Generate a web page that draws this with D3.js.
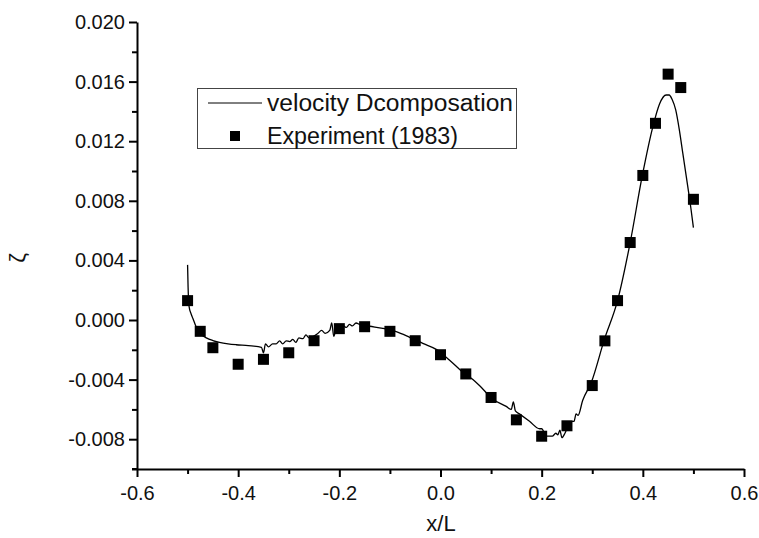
<!DOCTYPE html>
<html><head><meta charset="utf-8">
<script src="https://cdn.jsdelivr.net/npm/d3@7"></script>
<style>body{margin:0;background:#fff;}svg{display:block;font-family:"Liberation Sans",Arial,sans-serif;}</style>
</head><body><svg id="c" width="759" height="538"></svg>
<script>
// Experiment (1983) points
const expX = [-0.5,-0.475,-0.45,-0.4,-0.35,-0.3,-0.25,-0.2,-0.15,-0.1,-0.05,0.0,0.05,0.1,0.15,0.2,0.25,0.3,0.325,0.35,0.375,0.4,0.425,0.45,0.475,0.5];
const expY = [0.0013,-0.00076,-0.00186,-0.00297,-0.00264,-0.0022,-0.00139,-0.00058,-0.00045,-0.00076,-0.00139,-0.00233,-0.00362,-0.0052,-0.0067,-0.0078,-0.0071,-0.0044,-0.0014,0.0013,0.0052,0.0097,0.0132,0.0165,0.0156,0.0081];
// velocity Dcomposation line
const lineX = [-0.5,-0.499,-0.497,-0.493,-0.4895,-0.485,-0.48,-0.472,-0.463,-0.45,-0.437,-0.42,-0.404,-0.38,-0.354,-0.35,-0.346,-0.34,-0.332,-0.325,-0.318,-0.312,-0.305,-0.298,-0.292,-0.286,-0.28,-0.272,-0.266,-0.26,-0.2425,-0.235,-0.228,-0.219,-0.215,-0.211,-0.205,-0.198,-0.192,-0.186,-0.18,-0.174,-0.167,-0.16,-0.14,-0.114,-0.0875,-0.061,-0.035,-0.0085,0.018,0.044,0.064,0.077,0.103,0.13,0.14,0.144,0.148,0.156,0.176,0.196,0.2,0.209,0.221,0.228,0.232,0.236,0.24,0.246,0.25,0.256,0.26,0.264,0.268,0.272,0.281,0.298,0.324,0.35,0.375,0.399,0.42,0.433,0.446,0.452,0.458,0.465,0.472,0.479,0.486,0.495,0.5];
const lineY = [0.0037,0.0022,0.0009,0.0004,0.0001,-0.0003,-0.0007,-0.001,-0.0012,-0.00138,-0.0015,-0.0016,-0.00166,-0.00172,-0.00183,-0.0022,-0.0016,-0.0018,-0.0016,-0.0016,-0.0014,-0.0016,-0.0014,-0.00145,-0.0013,-0.0015,-0.0012,-0.00125,-0.001,-0.0012,-0.0009,-0.0007,-0.0009,-0.0007,-0.0002,-0.0011,-0.0005,-0.0006,-0.0004,-0.0005,-0.0003,-0.0004,-0.0002,-0.0003,-0.00042,-0.00056,-0.00078,-0.00116,-0.00157,-0.00197,-0.0027,-0.0035,-0.004,-0.0044,-0.0053,-0.0058,-0.006,-0.0055,-0.0061,-0.0063,-0.0068,-0.0073,-0.0073,-0.0078,-0.0078,-0.0076,-0.0077,-0.0074,-0.0079,-0.0076,-0.0073,-0.0071,-0.0068,-0.0068,-0.0063,-0.0064,-0.0054,-0.0042,-0.0013,0.0013,0.0052,0.0097,0.013,0.0145,0.0151,0.0151,0.0148,0.0141,0.0128,0.0112,0.0096,0.0075,0.0062];
const xMajor = [-0.6,-0.4,-0.2,0.0,0.2,0.4,0.6];
const xMinor = [-0.5,-0.3,-0.1,0.1,0.3,0.5];
const yMajor = [-0.008,-0.004,0.0,0.004,0.008,0.012,0.016,0.020];
const yMinor = [-0.010,-0.006,-0.002,0.002,0.006,0.010,0.014,0.018];
const seriesNames = ["velocity Dcomposation","Experiment (1983)"];

const svg = d3.select("#c");
const x = d3.scaleLinear().domain([-0.6,0.6]).range([137,744]);
const y = d3.scaleLinear().domain([-0.010,0.020]).range([469,22]);
const fmt = p => v => d3.format(p)(v).replace("\u2212","-");

const gx = svg.append("g").attr("transform","translate(0,469)");
gx.call(d3.axisBottom(x).tickValues(xMajor).tickFormat(fmt(".1f")).tickSize(8).tickSizeOuter(0));
gx.append("g").call(d3.axisBottom(x).tickValues(xMinor).tickFormat("").tickSize(5).tickSizeOuter(0)).select(".domain").remove();
const gy = svg.append("g").attr("transform","translate(137,0)");
gy.call(d3.axisLeft(y).tickValues(yMajor).tickFormat(fmt(".3f")).tickSize(8).tickSizeOuter(0));
gy.append("g").call(d3.axisLeft(y).tickValues(yMinor).tickFormat("").tickSize(5).tickSizeOuter(0)).select(".domain").remove();
svg.selectAll(".domain").attr("stroke","#000").attr("stroke-width",2);
svg.selectAll(".tick line").attr("stroke","#000").attr("stroke-width",2);
gx.selectAll(".tick text").attr("font-size",20).attr("dy","1.0em").attr("fill","#111");
gy.selectAll(".tick text").attr("font-size",20).attr("dx","-0.05em").attr("fill","#111");
svg.append("line").attr("x1",132).attr("x2",137).attr("y1",469).attr("y2",469).attr("stroke","#000").attr("stroke-width",2);

const pts = lineX.map((v,i)=>[v,lineY[i]]);
svg.append("path").datum(pts)
  .attr("d", d3.line().x(d=>x(d[0])).y(d=>y(d[1])).curve(d3.curveMonotoneX))
  .attr("fill","none").attr("stroke","#000").attr("stroke-width",1.3);

const ms = 11;
svg.selectAll("rect.exp").data(expX.map((v,i)=>[v,expY[i]])).join("rect")
  .attr("class","exp").attr("x",d=>x(d[0])-ms/2).attr("y",d=>y(d[1])-ms/2)
  .attr("width",ms).attr("height",ms).attr("fill","#000");

// legend
const lg = svg.append("g");
lg.append("rect").attr("x",197.5).attr("y",88.5).attr("width",319).attr("height",60)
  .attr("fill","#fff").attr("stroke","#444").attr("stroke-width",1);
lg.append("line").attr("x1",208).attr("x2",262).attr("y1",103).attr("y2",103).attr("stroke","#000").attr("stroke-width",1);
lg.append("rect").attr("x",235-5).attr("y",136-5).attr("width",10).attr("height",10).attr("fill","#000");
lg.append("text").attr("x",267).attr("y",111).attr("font-size",23).attr("textLength",246).attr("lengthAdjust","spacingAndGlyphs").attr("fill","#111").text(seriesNames[0]);
lg.append("text").attr("x",267).attr("y",144).attr("font-size",23).attr("textLength",191).attr("lengthAdjust","spacingAndGlyphs").attr("fill","#111").text(seriesNames[1]);

svg.append("text").attr("x",441).attr("y",531).attr("text-anchor","middle").attr("font-size",22).attr("fill","#111").text("x/L");
svg.append("text").attr("transform","translate(25,258) rotate(-90)").attr("text-anchor","middle").attr("font-size",22).attr("fill","#111").text("ζ");
</script></body></html>
